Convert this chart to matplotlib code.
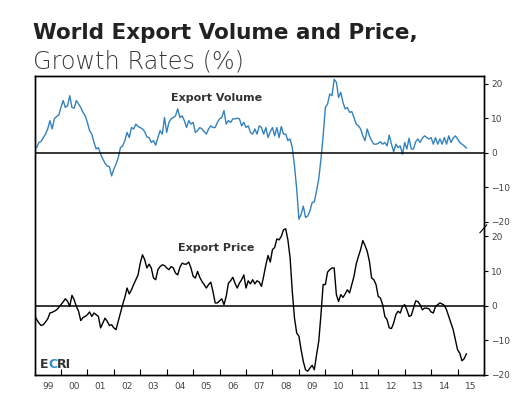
# World export volume and price growth rates (ECRI style chart)
import numpy as np
import matplotlib.pyplot as plt

# monthly growth rates (%), Jan 1999 - May 2015
volume = [1.7, 1.5, 3.0, 3.3, 4.4, 5.4, 6.9, 9.3, 6.9, 9.8,
          10.5, 10.9, 13.1, 15.1, 13.1, 13.6, 16.5, 13.1, 12.9, 15.1,
          14.1, 13.1, 11.7, 10.7, 8.8, 6.4, 5.4, 3.0, 1.1, 1.5,
          -0.4, -1.8, -3.0, -3.8, -4.0, -6.7, -4.7, -3.3, -1.4, 1.5,
          2.0, 3.5, 5.9, 4.4, 7.3, 6.9, 8.3, 7.6, 7.3, 6.9,
          6.1, 4.6, 4.4, 3.0, 3.5, 2.2, 4.4, 6.4, 5.4, 10.2,
          5.9, 8.8, 9.8, 10.2, 10.7, 12.7, 10.2, 10.7, 9.3, 7.3,
          9.3, 8.3, 8.8, 5.9, 6.4, 7.3, 6.9, 6.1, 5.4, 6.9,
          7.8, 7.3, 7.3, 8.8, 9.8, 10.2, 12.2, 8.3, 9.3, 8.8,
          9.8, 9.8, 10.0, 9.8, 7.8, 8.8, 7.3, 7.8, 5.9, 5.4,
          6.9, 5.4, 7.8, 7.3, 5.4, 7.3, 4.4, 6.1, 7.3, 4.9,
          7.3, 4.4, 7.6, 5.4, 5.4, 3.5, 4.0, 1.5, -3.8, -10.5,
          -19.2, -17.8, -15.4, -18.7, -18.3, -16.8, -14.4, -14.2, -11.0, -7.6,
          -1.8, 4.9, 13.1, 14.1, 17.0, 16.5, 21.2, 20.4, 16.0, 17.5,
          14.6, 12.7, 13.1, 11.7, 11.9, 10.2, 8.3, 7.8, 6.9, 4.9,
          3.5, 6.9, 4.9, 3.5, 2.5, 2.5, 2.7, 3.2, 2.5, 3.0,
          2.0, 5.1, 2.5, 0.3, 2.5, 1.5, 2.0, -0.4, 3.0, 1.1,
          4.2, 1.1, 1.1, 3.2, 4.0, 3.0, 4.2, 4.9, 4.4, 4.0,
          4.4, 2.5, 4.4, 2.5, 4.0, 2.5, 4.4, 2.5, 4.9, 3.0,
          4.2, 4.9, 4.0, 3.0, 2.5, 2.0, 1.4]

price = [-2.8, -4.0, -5.0, -5.7, -5.5, -4.7, -3.8, -2.1, -1.9, -1.6,
         -1.2, -0.5, 0.3, 1.1, 2.0, 1.3, -0.2, 3.0, 1.7, -0.2,
         -1.6, -4.3, -3.4, -3.1, -2.6, -1.8, -3.1, -2.1, -2.6, -3.1,
         -6.4, -5.0, -3.6, -4.5, -5.7, -5.5, -6.4, -6.9, -4.5, -2.1,
         0.3, 2.4, 5.1, 3.4, 4.6, 6.1, 7.5, 8.9, 12.3, 14.7,
         13.3, 10.9, 12.0, 10.9, 8.0, 7.5, 10.4, 11.3, 11.8, 11.6,
         10.9, 10.4, 11.3, 10.9, 9.4, 8.9, 11.1, 12.3, 12.0, 12.0,
         12.6, 10.9, 8.5, 8.0, 9.9, 8.2, 7.0, 6.1, 5.1, 6.1,
         6.8, 4.1, 0.8, 0.8, 1.4, 2.0, 0.3, 2.7, 6.5, 7.2,
         8.2, 6.5, 5.1, 6.5, 7.5, 8.9, 5.1, 7.2, 6.3, 7.5,
         6.3, 7.2, 6.8, 5.6, 8.5, 11.8, 14.5, 12.6, 16.2, 16.8,
         19.3, 19.0, 20.0, 21.9, 22.2, 19.0, 13.8, 4.1, -3.6, -7.9,
         -8.8, -12.7, -16.1, -18.5, -18.9, -18.0, -17.2, -18.5, -14.2, -10.3,
         -2.6, 6.1, 6.1, 9.7, 10.4, 10.9, 10.9, 3.2, 1.2, 3.2,
         2.4, 3.4, 4.6, 3.7, 6.1, 8.5, 12.0, 14.2, 16.2, 18.8,
         17.4, 15.7, 12.8, 8.0, 7.5, 6.1, 2.7, 2.2, 0.3, -3.1,
         -4.0, -6.4, -6.6, -5.0, -2.6, -1.6, -2.1, -0.2, 0.3, -1.2,
         -3.1, -2.8, -0.7, 1.4, 1.2, 0.3, -1.2, -0.7, -0.7, -0.9,
         -1.8, -2.1, -0.2, 0.3, 0.8, 0.5, 0.1, -1.2, -3.1, -5.0,
         -6.9, -9.8, -12.7, -13.7, -15.9, -15.3, -13.9]

year_labels = ['99', '00', '01', '02', '03', '04', '05', '06', '07',
               '08', '09', '10', '11', '12', '13', '14', '15']
y_ticks = [20, 10, 0, -10, -20]

start_year = 1999
t = start_year + np.arange(len(volume)) / 12.0

plt.rcParams['font.family'] = 'DejaVu Sans'

fig = plt.figure(figsize=(5.30, 3.98), dpi=100)
ax_p = fig.add_axes([0.0651, 0.0578, 0.8481, 0.7512])  # price axis, owns the x axis
ax_v = ax_p.twinx()  # volume axis on top part

# lines
ax_v.plot(t, volume, color='#3382bf', lw=1.0)
ax_p.plot(t, price, color='black', lw=1.0)
ax_v.axhline(0, color='black', lw=1.1)
ax_p.axhline(0, color='black', lw=1.1)

# y scales so the two panels stack inside one frame
ax_v.set_ylim(-64.25, 22.2)
ax_p.set_ylim(-20, 66.3)
ax_p.set_xlim(start_year, start_year + len(year_labels))

for ax in (ax_v, ax_p):
    ax.set_yticks(y_ticks)
    ax.tick_params(axis='y', direction='out', length=3, width=0.8,
                   labelsize=6.5, labelcolor='#444444', pad=2)
    for s in ax.spines.values():
        s.set_linewidth(1.0)
        s.set_color('black')
ax_p.yaxis.tick_right()

# x axis: ticks at year boundaries, labels in the middle of each year
years = np.arange(start_year, start_year + len(year_labels))
ax_p.set_xticks(years[1:])
ax_p.set_xticklabels([])
ax_p.set_xticks(years + 0.5, minor=True)
ax_p.set_xticklabels(year_labels, minor=True)
ax_p.tick_params(axis='x', which='major', direction='in', length=4, width=0.8)
ax_p.tick_params(axis='x', which='minor', length=0, labelsize=6.5,
                 labelcolor='#444444', pad=5)

# little break mark where the two scales meet
ax_p.plot([0.991, 1.006], [0.476, 0.502], transform=ax_p.transAxes,
          color='black', lw=0.8, clip_on=False)

# series names
ax_p.text(0.406, 0.926, 'Export Volume', transform=ax_p.transAxes,
          ha='center', va='center', fontsize=8, fontweight='bold', color='#333333')
ax_p.text(0.405, 0.425, 'Export Price', transform=ax_p.transAxes,
          ha='center', va='center', fontsize=8, fontweight='bold', color='#333333')

# ECRI logo
t1 = ax_p.text(0.011, 0.012, 'E', transform=ax_p.transAxes, fontsize=9,
               fontweight='bold', color='#333333', va='bottom')
t2 = ax_p.annotate('C', xy=(1, 0), xycoords=t1, fontsize=9,
                   fontweight='bold', color='#2a8fd0', va='bottom')
ax_p.annotate('RI', xy=(1, 0), xycoords=t2, fontsize=9,
              fontweight='bold', color='#333333', va='bottom')

# title
fig.text(0.062, 0.917, 'World Export Volume and Price,', fontsize=15.5,
         fontweight='bold', color='#222222', va='center')
fig.text(0.062, 0.845, 'Growth Rates (%)', fontsize=17.3, fontweight='light',
         color='#3a3a3a', va='center')

fig.savefig('out.png', dpi=100)
